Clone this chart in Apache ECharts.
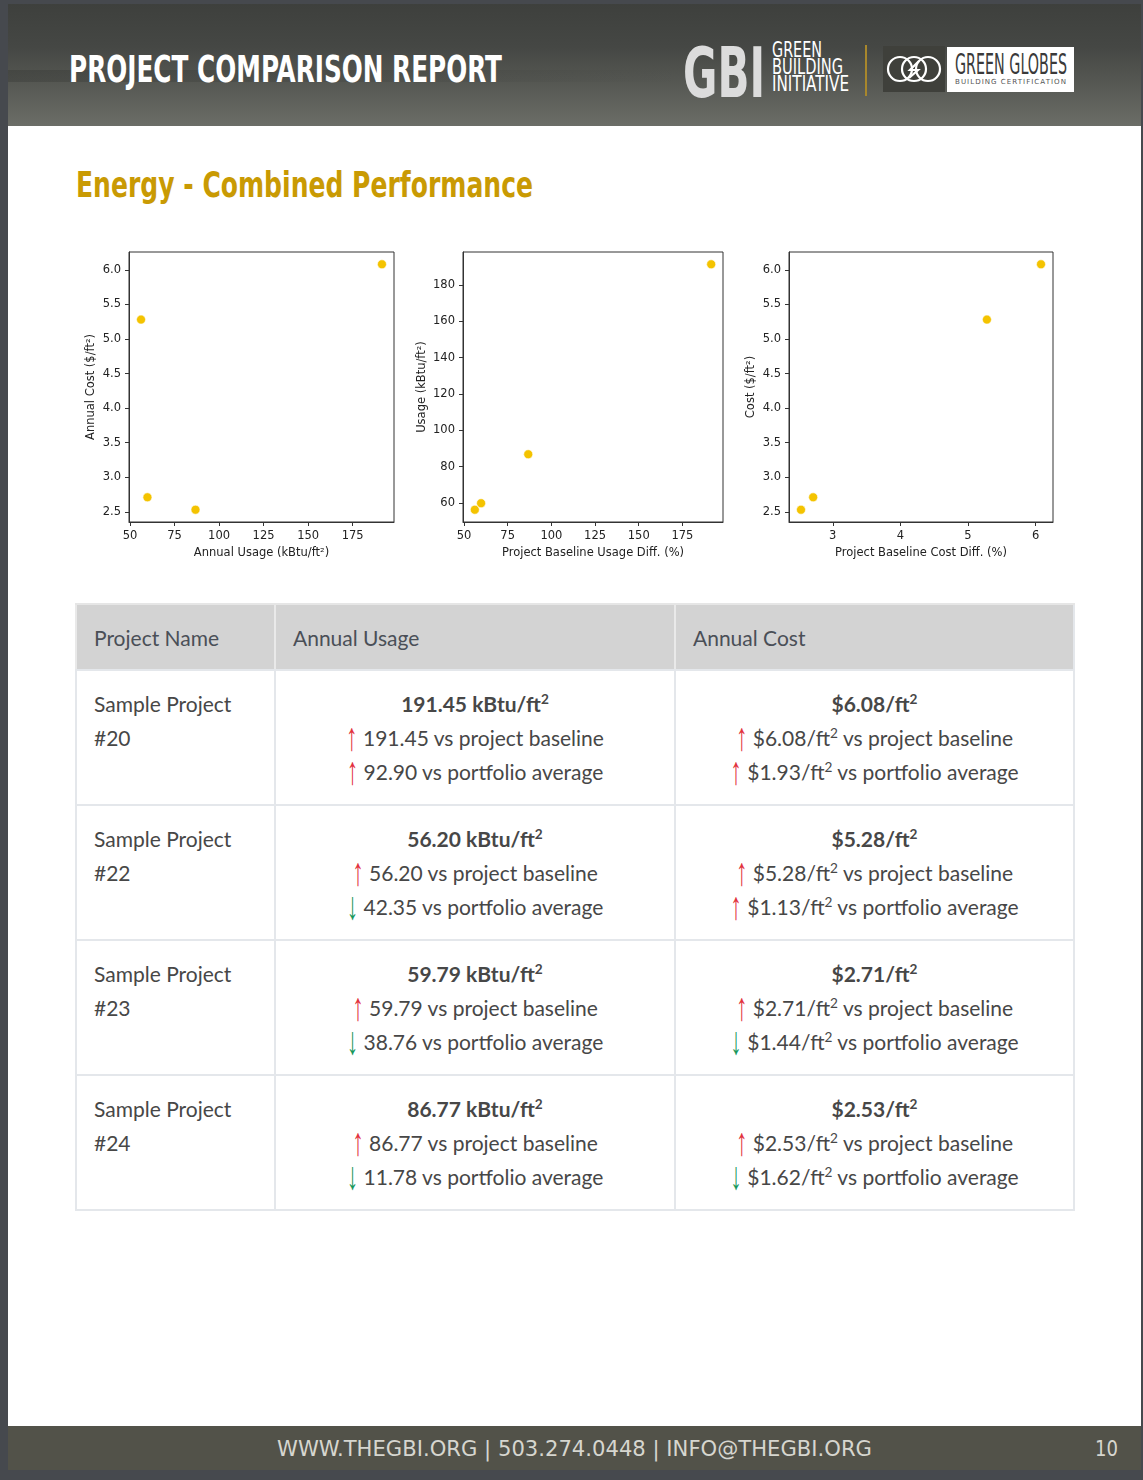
<!DOCTYPE html>
<html>
<head>
<meta charset="utf-8">
<script src="https://cdn.jsdelivr.net/npm/echarts@6/dist/echarts.min.js"></script>
<style>
  html,body{margin:0;padding:0;}
  body{width:1143px;height:1480px;background:#46494e;position:relative;overflow:hidden;font-family:Lato,"Noto Sans",sans-serif;}
  #page{position:absolute;left:8px;top:4px;width:1133px;height:1466px;background:#fff;}
  #header{position:absolute;left:8px;top:4px;width:1133px;height:122px;
    background:linear-gradient(180deg,#3e403d 0%,#454744 35%,#565853 65%,#6b6d67 100%);overflow:hidden;}
  #beam{position:absolute;left:0;top:66px;width:1133px;height:12px;
    background:linear-gradient(90deg,rgba(30,32,30,0.22) 0%,rgba(30,32,30,0.12) 30%,rgba(30,32,30,0.0) 60%);}
  .abs{position:absolute;white-space:nowrap;}
  .fit{display:inline-block;transform-origin:0 0;}
  #title{left:69px;top:50px;font-family:"Liberation Sans Narrow","DejaVu Sans Condensed","Liberation Sans",sans-serif;font-weight:bold;font-size:38px;line-height:38px;color:#fff;}
  #section{left:76px;top:167px;font-family:"Liberation Sans Narrow","DejaVu Sans Condensed","Liberation Sans",sans-serif;font-weight:bold;font-size:36px;line-height:36px;color:#c99a03;}
  #footer{position:absolute;left:8px;top:1426px;width:1133px;height:44px;background:#525249;}
  .foot{font-family:"Liberation Sans Narrow","DejaVu Sans Condensed","Liberation Sans",sans-serif;font-size:22px;line-height:22px;color:#d6d6cf;}
  #chart{position:absolute;left:0;top:230px;width:1143px;height:340px;}
  #table{position:absolute;left:75px;top:603px;width:1000px;}
  .row{display:flex;box-sizing:border-box;border-bottom:2px solid #e4e7eb;}
  .row.head{background:#d3d3d3;height:68px;border-top:2px solid #e6e6e6;border-bottom:2px solid #e4e7eb;}
  .row.body{height:135px;}
  .c{box-sizing:border-box;border-left:2px solid #e4e7eb;font-size:21px;color:#474747;}
  .c:last-child{border-right:2px solid #e4e7eb;}
  .c1{width:199px;}
  .c2{width:400px;}
  .c3{width:401px;}
  .head .c{display:flex;align-items:center;padding-left:17px;color:#4a4f57;border-left-color:#e9e9e9;}
  .body .c{padding-top:16px;line-height:34px;}
  .body .c1{padding-left:17px;}
  .body .c2,.body .c3{text-align:center;}
  .main{font-weight:bold;}
  sup{font-size:0.65em;line-height:0;vertical-align:0.6em;}
  .up,.dn{display:inline-block;font-family:"Liberation Sans",sans-serif;font-size:23px;line-height:20px;transform:scaleY(1.7);transform-origin:50% 60%;}
  .up{color:#e2323e;}
  .dn{color:#17975b;}
  .logo{font-family:"Liberation Sans Narrow","DejaVu Sans Condensed","Liberation Sans",sans-serif;}
</style>
</head>
<body>
<div id="page"></div>
<div id="header"><div id="beam"></div></div>

<div id="title" class="abs"><span class="fit" data-w="433">PROJECT COMPARISON REPORT</span></div>

<!-- GBI logo -->
<div class="abs logo" style="left:683px;top:38px;font-weight:bold;font-size:70px;line-height:70px;color:#dcdcdc;"><span class="fit" data-w="82">GBI</span></div>
<div class="abs logo" style="left:772px;top:42px;font-size:21px;line-height:17px;color:#fff;">
  <div><span class="fit" data-w="50">GREEN</span></div>
  <div><span class="fit" data-w="71">BUILDING</span></div>
  <div><span class="fit" data-w="77">INITIATIVE</span></div>
</div>
<div class="abs" style="left:865px;top:45px;width:2px;height:51px;background:#a8872c;"></div>
<div class="abs" style="left:883px;top:46px;width:62px;height:46px;background:#3f403b;">
  <svg width="62" height="46" viewBox="0 0 62 46">
    <circle cx="17" cy="23" r="12" fill="none" stroke="#fff" stroke-width="2.2"/>
    <circle cx="31" cy="23" r="12" fill="none" stroke="#fff" stroke-width="2.2"/>
    <circle cx="45" cy="23" r="12" fill="none" stroke="#fff" stroke-width="2.2"/>
    <path d="M36 15 L27 24 L35 24 L26 32" fill="none" stroke="#fff" stroke-width="2.2"/>
  </svg>
</div>
<div class="abs" style="left:947px;top:47px;width:127px;height:45px;background:#fff;"></div>
<div class="abs logo" style="left:955px;top:50px;font-size:29px;line-height:29px;color:#3a3a3a;"><span class="fit" data-w="112">GREEN GLOBES</span></div>
<div class="abs" style="left:955px;top:78px;font-family:'DejaVu Sans',sans-serif;font-size:7px;line-height:8px;color:#555;letter-spacing:1px;"><span class="fit" data-w="112">BUILDING CERTIFICATION</span></div>

<div id="section" class="abs"><span class="fit" data-w="457">Energy - Combined Performance</span></div>

<div id="chart"></div>
<div id="table"></div>

<div id="footer"></div>
<div class="abs foot" style="left:277px;top:1438px;"><span class="fit" data-w="595">WWW.THEGBI.ORG | 503.274.0448 | INFO@THEGBI.ORG</span></div>
<div class="abs foot" style="left:1095px;top:1438px;"><span class="fit" data-w="23">10</span></div>

<script>
// ---- data ----
const projectNames = ['Sample Project #20', 'Sample Project #22', 'Sample Project #23', 'Sample Project #24'];
const annualUsage = [191.45, 56.20, 59.79, 86.77];
const annualCost = [6.08, 5.28, 2.71, 2.53];
const baselineUsageDiff = [191.45, 56.20, 59.79, 86.77];
const baselineCostDiff = [6.08, 5.28, 2.71, 2.53];
const portfolioUsageDiff = [92.90, -42.35, -38.76, -11.78];
const portfolioCostDiff = [1.93, 1.13, -1.44, -1.62];
const usageXTicks = [50, 75, 100, 125, 150, 175];
const usageYTicks = [60, 80, 100, 120, 140, 160, 180];
const costYTicks = [2.5, 3.0, 3.5, 4.0, 4.5, 5.0, 5.5, 6.0];
const costXTicks = [3, 4, 5, 6];

// ---- fit text widths ----
document.querySelectorAll('.fit').forEach(el => {
  const w = el.getBoundingClientRect().width;
  const t = parseFloat(el.dataset.w);
  if (w > 0) el.style.transform = 'scaleX(' + (t / w) + ')';
});

// ---- charts ----
function lim(arr) {
  const mn = Math.min.apply(null, arr), mx = Math.max.apply(null, arr);
  const m = (mx - mn) * 0.05;
  return [mn - m, mx + m];
}
const txt = { fontFamily: 'DejaVu Sans', fontSize: 11.5, color: '#222' };
function axis(idx, range, ticks, name, gap, fmt) {
  return {
    type: 'value', gridIndex: idx, min: range[0], max: range[1],
    name: name, nameLocation: 'middle', nameGap: gap, nameTextStyle: txt,
    axisLine: { show: true, onZero: false, lineStyle: { color: '#333', width: 1 } },
    axisTick: { show: true, length: 4, customValues: ticks, lineStyle: { color: '#333', width: 1 } },
    axisLabel: Object.assign({ customValues: ticks, formatter: fmt, margin: 8 }, txt),
    splitLine: { show: false }
  };
}
const f1 = v => Number(v).toFixed(1);
const f0 = v => String(Math.round(v));
const gridBase = { top: 22, height: 270, show: true, borderColor: '#333', borderWidth: 1, containLabel: false };
function pts(xs, ys) { return xs.map((x, i) => [x, ys[i]]); }
const sym = { symbolSize: 9, itemStyle: { color: '#f4c300', borderColor: '#fff', borderWidth: 0.6, opacity: 1 } };

const chart = echarts.init(document.getElementById('chart'), null, { renderer: 'canvas' });
chart.setOption({
  animation: false,
  grid: [
    Object.assign({ left: 129, width: 265 }, gridBase),
    Object.assign({ left: 463, width: 260 }, gridBase),
    Object.assign({ left: 789, width: 264 }, gridBase)
  ],
  xAxis: [
    axis(0, lim(annualUsage), usageXTicks, 'Annual Usage (kBtu/ft²)', 22, f0),
    axis(1, lim(baselineUsageDiff), usageXTicks, 'Project Baseline Usage Diff. (%)', 22, f0),
    axis(2, lim(baselineCostDiff), costXTicks, 'Project Baseline Cost Diff. (%)', 22, f0)
  ],
  yAxis: [
    axis(0, lim(annualCost), costYTicks, 'Annual Cost ($/ft²)', 32, f1),
    axis(1, lim(annualUsage), usageYTicks, 'Usage (kBtu/ft²)', 35, f0),
    axis(2, lim(annualCost), costYTicks, 'Cost ($/ft²)', 32, f1)
  ],
  series: [
    Object.assign({ type: 'scatter', xAxisIndex: 0, yAxisIndex: 0, data: pts(annualUsage, annualCost) }, sym),
    Object.assign({ type: 'scatter', xAxisIndex: 1, yAxisIndex: 1, data: pts(baselineUsageDiff, annualUsage) }, sym),
    Object.assign({ type: 'scatter', xAxisIndex: 2, yAxisIndex: 2, data: pts(baselineCostDiff, annualCost) }, sym)
  ]
});

// ---- table ----
const arrow = v => v >= 0 ? '<span class="up">↑</span>' : '<span class="dn">↓</span>';
let html = '<div class="row head"><div class="c c1">Project Name</div><div class="c c2">Annual Usage</div><div class="c c3">Annual Cost</div></div>';
projectNames.forEach((n, i) => {
  const parts = n.split(' #');
  html += '<div class="row body">' +
    '<div class="c c1">' + parts[0] + '<br>#' + parts[1] + '</div>' +
    '<div class="c c2"><span class="main">' + annualUsage[i].toFixed(2) + ' kBtu/ft<sup>2</sup></span><br>' +
      arrow(baselineUsageDiff[i]) + ' ' + Math.abs(baselineUsageDiff[i]).toFixed(2) + ' vs project baseline<br>' +
      arrow(portfolioUsageDiff[i]) + ' ' + Math.abs(portfolioUsageDiff[i]).toFixed(2) + ' vs portfolio average</div>' +
    '<div class="c c3"><span class="main">$' + annualCost[i].toFixed(2) + '/ft<sup>2</sup></span><br>' +
      arrow(baselineCostDiff[i]) + ' $' + Math.abs(baselineCostDiff[i]).toFixed(2) + '/ft<sup>2</sup> vs project baseline<br>' +
      arrow(portfolioCostDiff[i]) + ' $' + Math.abs(portfolioCostDiff[i]).toFixed(2) + '/ft<sup>2</sup> vs portfolio average</div>' +
    '</div>';
});
document.getElementById('table').innerHTML = html;
</script>
</body>
</html>
